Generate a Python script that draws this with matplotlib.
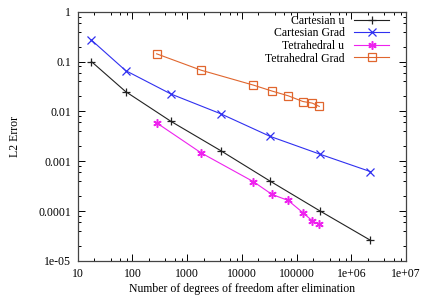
import matplotlib
matplotlib.use("Agg")
import matplotlib.pyplot as plt
from matplotlib.ticker import LogLocator, NullFormatter

plt.rcParams["font.family"] = ["Liberation Serif", "DejaVu Serif"]

# degrees of freedom after elimination
cart_dofs = [17.8, 75, 508, 4080, 32800, 271000, 2.24e6]
cart_u = [0.1, 0.025, 0.0063, 0.00164, 0.0004, 0.0001, 2.6e-5]
cart_grad = [0.27, 0.066, 0.0223, 0.009, 0.00316, 0.00138, 0.00062]

tet_dofs = [277, 1807, 16250, 35600, 70100, 130600, 193000, 260000]
tet_u = [0.0059, 0.00147, 0.00039, 0.000216, 0.000164, 9.3e-5, 6.4e-5, 5.4e-5]
tet_grad = [0.143, 0.067, 0.0337, 0.0256, 0.0206, 0.0158, 0.0147, 0.0126]

xticks = [10, 100, 1000, 10000, 100000, 1e6, 1e7]
xtick_labels = ["10", "100", "1000", "10000", "100000", "1e+06", "1e+07"]
yticks = [1e-5, 1e-4, 1e-3, 1e-2, 1e-1, 1]
ytick_labels = ["1e-05", "0.0001", "0.001", "0.01", "0.1", "1"]

fig = plt.figure(figsize=(4.21, 2.95), dpi=100)
ax = fig.add_axes([0.1846, 0.1153, 0.9644 - 0.1846, 0.9603 - 0.1153])

lw = 0.8
ax.plot(cart_dofs, cart_u, color="#222222", lw=lw, marker="+", ms=6,
        mew=0.9, label="Cartesian u")
ax.plot(cart_dofs, cart_grad, color="#3030f0", lw=lw, marker="x", ms=5.5,
        mew=0.9, label="Cartesian Grad")
ax.plot(tet_dofs, tet_u, color="#ee22ee", lw=lw, marker=(6, 2, 0), ms=6,
        mew=1.1, label="Tetrahedral u")
ax.plot(tet_dofs, tet_grad, color="#e0662e", lw=lw, marker="s", ms=5.5,
        mew=0.9, mfc="none", label="Tetrahedral Grad")

ax.set_xscale("log")
ax.set_yscale("log")
ax.set_xlim(10, 1e7)
ax.set_ylim(1e-5, 1)

ax.set_xticks(xticks)
ax.set_xticklabels(xtick_labels)
ax.set_yticks(yticks)
ax.set_yticklabels(ytick_labels)
ax.xaxis.set_minor_locator(LogLocator(base=10, subs=(2, 4, 6, 8), numticks=20))
ax.yaxis.set_minor_locator(LogLocator(base=10, subs=(2, 4, 6, 8), numticks=20))
ax.xaxis.set_minor_formatter(NullFormatter())
ax.yaxis.set_minor_formatter(NullFormatter())

ax.tick_params(which="both", direction="in", top=True, right=True,
               labelsize=8.5, width=0.7, pad=5)
ax.tick_params(which="major", length=5)
ax.tick_params(which="minor", length=2.5)
for spine in ax.spines.values():
    spine.set_linewidth(0.9)
    spine.set_edgecolor("#444444")

ax.set_ylabel("L2 Error", fontsize=8.5, labelpad=12)
ax.set_xlabel("Number of degrees of freedom after elimination", fontsize=8.5,
              labelpad=2)

ax.legend(loc="upper right", frameon=False, markerfirst=False, fontsize=8.5,
          handlelength=3.0, handletextpad=0.8, labelspacing=0.05,
          borderaxespad=0.6, bbox_to_anchor=(0.985, 1.035))

fig.savefig("out.png", dpi=100)
